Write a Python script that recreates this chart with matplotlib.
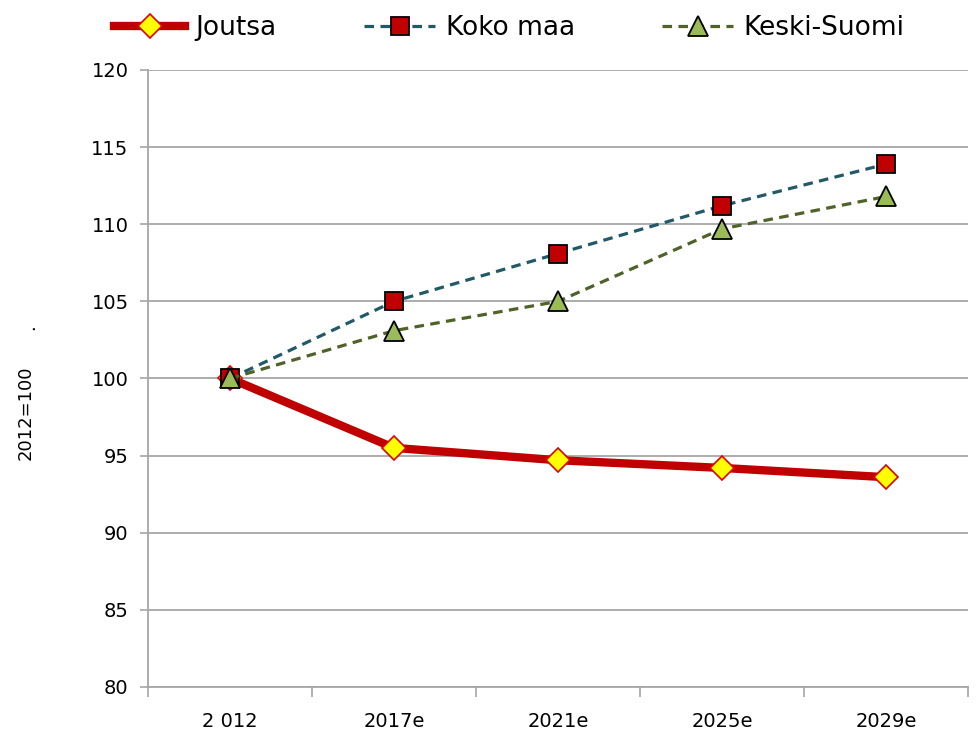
import matplotlib.pyplot as plt
import numpy as np

# data
years = ["2 012", "2017e", "2021e", "2025e", "2029e"]
joutsa = [100.0, 95.5, 94.7, 94.2, 93.6]
koko_maa = [100.0, 105.0, 108.1, 111.2, 113.9]
keski_suomi = [100.0, 103.1, 105.0, 109.7, 111.8]

plt.rcParams['font.family'] = ['DejaVu Sans']

fig = plt.figure(figsize=(9.8, 7.43), dpi=100)
ax = fig.add_axes([0.151, 0.0754, 0.837, 0.8304])

x = np.arange(len(years))

l1, = ax.plot(x, joutsa, color="#C00000", linewidth=6, marker="D", markersize=12.5,
              markerfacecolor="#FFFF00", markeredgecolor="#E00000", markeredgewidth=1.2,
              label="Joutsa", zorder=3)
l2, = ax.plot(x, koko_maa, color="#215968", linewidth=2.3, dashes=(3, 2), marker="s",
              markersize=13.5, markerfacecolor="#C00000", markeredgecolor="black",
              markeredgewidth=1.3, label="Koko maa", zorder=4)
l3, = ax.plot(x, keski_suomi, color="#4F6228", linewidth=2.3, dashes=(3, 2), marker="^",
              markersize=14.5, markerfacecolor="#9BBB59", markeredgecolor="black",
              markeredgewidth=1.3, label="Keski-Suomi", zorder=5)

ax.set_xlim(-0.5, len(years) - 0.5)
ax.set_ylim(80, 120)
ax.set_yticks(np.arange(80, 121, 5))
ax.yaxis.grid(True, color="#A6A6A6", linewidth=1.3)
ax.set_axisbelow(True)

ax.set_xticks(x)
ax.set_xticklabels(years, fontsize=14)
ax.set_xticks(np.arange(-0.5, len(years), 1), minor=True)
ax.tick_params(axis='x', which='major', length=0, pad=18)
ax.tick_params(axis='x', which='minor', length=7, color="#A6A6A6", width=1.2)
ax.tick_params(axis='y', length=6, color="#A6A6A6", width=1.2, labelsize=14, pad=8)

for s in ["top", "right"]:
    ax.spines[s].set_visible(False)
for s in ["left", "bottom"]:
    ax.spines[s].set_color("#A6A6A6")
    ax.spines[s].set_linewidth(1.3)

fig.text(0.026, 0.444, "2012=100", rotation=90, fontsize=13,
         ha="center", va="center")
fig.text(0.03, 0.56, ".", rotation=90, fontsize=13, ha="center", va="center")

fig.legend(handles=[l1, l2, l3], loc="upper left", bbox_to_anchor=(0.092, 1.012),
           ncol=3, frameon=False, fontsize=19, handlelength=2.7, columnspacing=3.3,
           handletextpad=0.4)

fig.savefig("out.png", dpi=100)
